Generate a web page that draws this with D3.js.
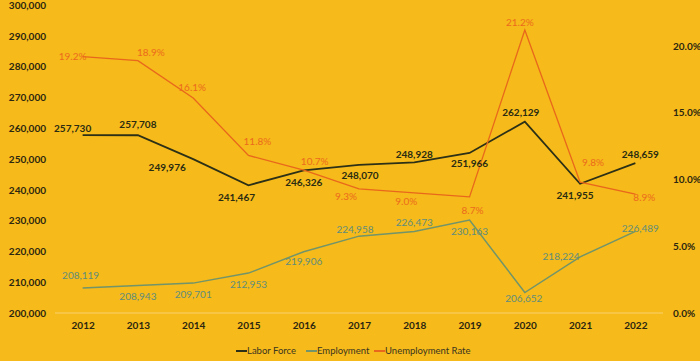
<!DOCTYPE html>
<html>
<head>
<meta charset="utf-8">
<script src="https://cdn.jsdelivr.net/npm/d3@7"></script>
<style>
  body { margin: 0; background: #F6BA1A; }
  svg text { font-family: Lato, "Open Sans", sans-serif; }
</style>
</head>
<body>
<div id="chart"></div>
<script>
// Data
const years = ['2012', '2013', '2014', '2015', '2016', '2017', '2018', '2019', '2020', '2021', '2022']
const laborForce = [257730, 257708, 249976, 241467, 246326, 248070, 248928, 251966, 262129, 241955, 248659]
const employment = [208119, 208943, 209701, 212953, 219906, 224958, 226473, 230163, 206652, 218224, 226489]
const unemploymentRate = [19.2, 18.9, 16.1, 11.8, 10.7, 9.3, 9.0, 8.7, 21.2, 9.8, 8.9]
const leftTicks = [200000, 210000, 220000, 230000, 240000, 250000, 260000, 270000, 280000, 290000, 300000]
const rightTicks = [0, 5, 10, 15, 20]

// label offsets (dx, dy) from each point
const laborOffsets = [[-10, -7], [0, -11], [-26, 8], [-12, 12], [0, 12], [1, 11], [0, -8], [0, 11], [-4, -9], [-5, 12], [5, -9]]
const employOffsets = [[-2, -12], [0, 11], [0, 11], [0, 11], [0, 10], [-4, -7], [0, -9], [0, 11], [-1, 6], [-19, 0], [5, -3]]
const rateOffsets = [[-10, 0], [13, -8], [-1, -11], [9, -14], [11, -9], [-13, 8], [-8, 9], [3, 14], [-5, -7], [13, -20], [9, 3]]

const dimensions = { width: 700, height: 361 }
const plot = { left: 55, right: 663, top: 5, bottom: 313 }

const colors = {
  bg: '#F6BA1A',
  labor: '#2C3016',
  laborText: '#2A2C12',
  employ: '#71946A',
  employText: '#5F8D7C',
  rate: '#E8671C',
  rateText: '#EC6A1E',
  axisText: '#2B2610'
}

const svg = d3.select('#chart')
  .append('svg')
  .attr('width', dimensions.width)
  .attr('height', dimensions.height)

svg.append('rect')
  .attr('width', dimensions.width)
  .attr('height', dimensions.height)
  .attr('fill', colors.bg)

// Scales
const x = d3.scalePoint()
  .domain(years)
  .range([plot.left, plot.right])
  .padding(0.5)

const yLeft = d3.scaleLinear()
  .domain([200000, 300000])
  .range([plot.bottom, plot.top])

const yRight = d3.scaleLinear()
  .domain([0, 23.07])
  .range([plot.bottom, plot.top])

// baseline
svg.append('line')
  .attr('x1', plot.left).attr('x2', plot.right)
  .attr('y1', plot.bottom).attr('y2', plot.bottom)
  .attr('stroke', '#F9D26E')
  .attr('stroke-width', 1)

// Left axis
const leftAxis = svg.append('g')
  .attr('transform', 'translate(46,0)')
  .call(d3.axisLeft(yLeft).tickValues(leftTicks).tickFormat(d3.format(',')).tickSize(0).tickPadding(0))
leftAxis.select('.domain').remove()
leftAxis.selectAll('text')
  .attr('font-size', 10)
  .attr('font-weight', 'bold')
  .attr('fill', colors.axisText)

// Right axis
const rightAxis = svg.append('g')
  .attr('transform', 'translate(673,0)')
  .call(d3.axisRight(yRight).tickValues(rightTicks).tickFormat(d => d.toFixed(1) + '%').tickSize(0).tickPadding(0))
rightAxis.select('.domain').remove()
rightAxis.selectAll('text')
  .attr('font-size', 10)
  .attr('font-weight', 'bold')
  .attr('fill', colors.axisText)

// Bottom axis
const bottomAxis = svg.append('g')
  .attr('transform', `translate(0,${plot.bottom})`)
  .call(d3.axisBottom(x).tickSize(0).tickPadding(9))
bottomAxis.select('.domain').remove()
bottomAxis.selectAll('text')
  .attr('font-size', 10)
  .attr('font-weight', 'bold')
  .attr('fill', colors.axisText)

// Series
const series = [
  { name: 'Labor Force', values: laborForce, y: yLeft, color: colors.labor, text: colors.laborText, width: 1.8, bold: true, offsets: laborOffsets, fmt: d3.format(',') },
  { name: 'Employment', values: employment, y: yLeft, color: colors.employ, text: colors.employText, width: 1.5, bold: false, offsets: employOffsets, fmt: d3.format(',') },
  { name: 'Unemployment Rate', values: unemploymentRate, y: yRight, color: colors.rate, text: colors.rateText, width: 1.3, bold: false, offsets: rateOffsets, fmt: d => d.toFixed(1) + '%' }
]

series.forEach(s => {
  const line = d3.line()
    .x((d, i) => x(years[i]))
    .y(d => s.y(d))

  svg.append('path')
    .datum(s.values)
    .attr('fill', 'none')
    .attr('stroke', s.color)
    .attr('stroke-width', s.width)
    .attr('stroke-linejoin', 'miter')
    .attr('d', line)
})

// data labels drawn after all lines
series.forEach(s => {
  svg.append('g')
    .selectAll('text')
    .data(s.values)
    .join('text')
    .attr('x', (d, i) => x(years[i]) + s.offsets[i][0])
    .attr('y', (d, i) => s.y(d) + s.offsets[i][1])
    .attr('dy', '0.35em')
    .attr('text-anchor', 'middle')
    .attr('font-size', 10)
    .attr('font-weight', s.bold ? 'bold' : 'normal')
    .attr('fill', s.text)
    .text(s.fmt)
})

// Legend
const legendItems = [
  { name: 'Labor Force', color: colors.labor, x: 236 },
  { name: 'Employment', color: colors.employ, x: 306 },
  { name: 'Unemployment Rate', color: colors.rate, x: 374 }
]
const legend = svg.append('g').attr('transform', 'translate(0,351)')
legendItems.forEach(item => {
  legend.append('line')
    .attr('x1', item.x).attr('x2', item.x + 11)
    .attr('y1', 0).attr('y2', 0)
    .attr('stroke', item.color)
    .attr('stroke-width', 2)
  legend.append('text')
    .attr('x', item.x + 11)
    .attr('y', 0)
    .attr('dy', '0.35em')
    .attr('font-size', 9.5)
    .attr('fill', '#3A3520')
    .text(item.name)
})
</script>
</body>
</html>
